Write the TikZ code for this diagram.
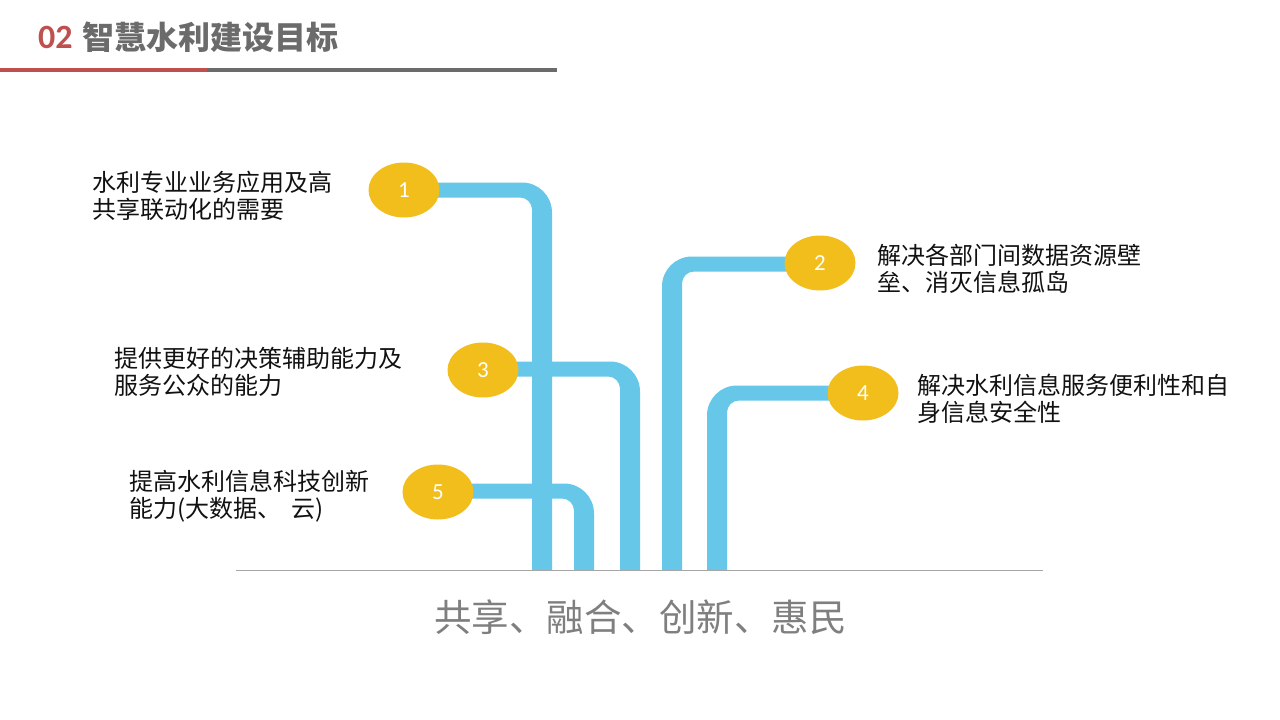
\documentclass[tikz,border=0pt]{standalone}
\usepackage{fontspec}
\setmainfont{Noto Sans CJK SC}
\newfontfamily\numfont{Carlito}
\usetikzlibrary{shapes.geometric}
\definecolor{pipeblue}{HTML}{66C7E8}
\definecolor{goldfill}{HTML}{F1BE1B}
\definecolor{titlered}{HTML}{C0504D}
\definecolor{titlegray}{HTML}{6B6B6B}
\definecolor{linegray}{HTML}{A6A6A6}
\definecolor{bottomgray}{HTML}{7F7F7F}
\definecolor{bodytext}{HTML}{111111}
% pipe going right from the ball, then down
\newcommand\piperight[4]{%
  \fill[pipe] (#1,{#2-7.5}) -- ({#3-20},{#2-7.5})
    .. controls ({#3-3.4},{#2-7.5}) and ({#3+10},{#2+5.9}) .. ({#3+10},{#2+22.5})
    -- ({#3+10},#4) -- ({#3-10},#4) -- ({#3-10},{#2+19.5})
    .. controls ({#3-10},{#2+12.9}) and ({#3-15.4},{#2+7.5}) .. ({#3-22},{#2+7.5})
    -- (#1,{#2+7.5}) -- cycle;}
% pipe going left from the ball, then down
\newcommand\pipeleft[4]{%
  \fill[pipe] (#1,{#2-7.5}) -- ({#3+20},{#2-7.5})
    .. controls ({#3+3.4},{#2-7.5}) and ({#3-10},{#2+5.9}) .. ({#3-10},{#2+22.5})
    -- ({#3-10},#4) -- ({#3+10},#4) -- ({#3+10},{#2+19.5})
    .. controls ({#3+10},{#2+12.9}) and ({#3+15.4},{#2+7.5}) .. ({#3+22},{#2+7.5})
    -- (#1,{#2+7.5}) -- cycle;}
\begin{document}
\begin{tikzpicture}[x=1pt,y=-1pt,
  pipe/.style={fill=pipeblue},
  ball/.style={ellipse, fill=goldfill, minimum width=71pt, minimum height=55pt, inner sep=0pt,
    text=white, font=\numfont\fontsize{23}{23}\selectfont},
  goal/.style={anchor=west, align=left, inner sep=0pt, text=bodytext,
    font=\fontsize{24}{27}\selectfont},
]
\useasboundingbox (0,0) rectangle (1280,720);
\fill[white] (0,0) rectangle (1280,720);

% header
\node[anchor=west, inner sep=0pt, text=titlered, font=\numfont\bfseries\fontsize{34}{34}\selectfont] (num) at (38,37.5) {02};
\node[anchor=west, inner sep=0pt, text=titlegray, font=\bfseries\fontsize{32}{32}\selectfont] (title) at (82,37.5) {智慧水利建设目标};
\draw[titlered, line width=3.5pt] (0,70) coordinate (hl0) -- (207,70) coordinate (hl1);
\draw[titlegray, line width=3.5pt] (hl1) -- (557,70) coordinate (hl2);

% pipes
\piperight{404}{190}{542}{570}
\piperight{483}{369}{630}{570}
\piperight{438}{491}{584}{570}
\pipeleft{820}{264}{672}{570}
\pipeleft{863}{393}{717}{570}

% baseline
\draw[linegray, line width=1pt] (236,570) coordinate (bl0) -- (1043,570) coordinate (bl1);

% balls
\node[ball] (e1) at (404,190) {1};
\node[ball] (e2) at (820,263) {2};
\node[ball] (e3) at (483,370) {3};
\node[ball] (e4) at (863,393) {4};
\node[ball] (e5) at (438,492) {5};

% goals
\node[goal] (t1) at (92,196) {水利专业业务应用及高\\共享联动化的需要};
\node[goal] (t2) at (877,268.5) {解决各部门间数据资源壁\\垒、消灭信息孤岛};
\node[goal] (t3) at (114,372) {提供更好的决策辅助能力及\\服务公众的能力};
\node[goal] (t4) at (917,398.5) {解决水利信息服务便利性和自\\身信息安全性};
\node[goal] (t5) at (129,496.5) {提高水利信息科技创新\\能力(大数据、\hspace{10pt}云)};

% motto
\node[inner sep=0pt, text=bottomgray, font=\fontsize{37.5}{37.5}\selectfont] (motto) at (640.5,617) {共享、融合、创新、惠民};
\end{tikzpicture}
\end{document}
